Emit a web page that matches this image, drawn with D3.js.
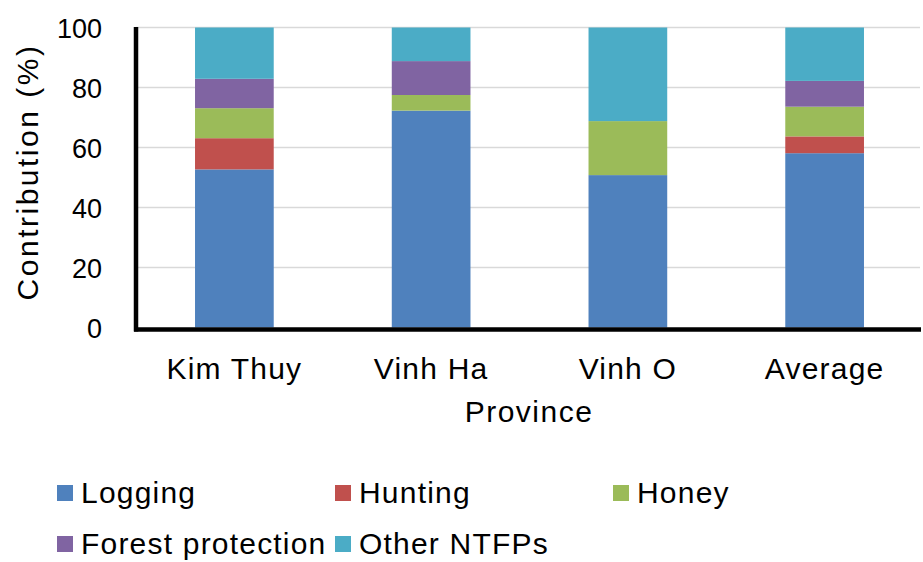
<!DOCTYPE html>
<html>
<head>
<meta charset="utf-8">
<script src="https://cdn.jsdelivr.net/npm/d3@7"></script>
<style>
  html, body { margin: 0; padding: 0; background: #fff; }
  svg { display: block; font-family: "Liberation Sans", Arial, sans-serif; }
</style>
</head>
<body>
<svg id="chart" width="923" height="562"></svg>
<script>
const categories = ["Kim Thuy", "Vinh Ha", "Vinh O", "Average"];
const seriesNames = ["Logging", "Hunting", "Honey", "Forest protection", "Other NTFPs"];
const logging = [52.7, 72.3, 50.8, 58.1];
const hunting = [10.4, 0, 0, 5.6];
const honey = [10.0, 5.2, 18.0, 9.9];
const forestProtection = [9.8, 11.3, 0, 8.6];
const otherNTFPs = [17.1, 11.2, 31.2, 17.8];
const yTicks = [0, 20, 40, 60, 80, 100];
const colors = ["#4f81bd", "#c0504d", "#9bbb59", "#8064a2", "#4bacc6"];

const seriesValues = [logging, hunting, honey, forestProtection, otherNTFPs];
const table = categories.map((c, i) => {
  const row = { category: c };
  seriesNames.forEach((s, j) => row[s] = seriesValues[j][i]);
  return row;
});

const svg = d3.select("#chart");
const x = d3.scaleBand().domain(categories).range([136, 923]).paddingInner(0.6).paddingOuter(0.3);
const y = d3.scaleLinear().domain([0, 100]).range([327.5, 27.5]);
const color = d3.scaleOrdinal().domain(seriesNames).range(colors);

// gridlines
svg.append("g").selectAll("line").data(yTicks.filter(d => d > 0)).join("line")
  .attr("x1", 136).attr("x2", 920)
  .attr("y1", d => y(d)).attr("y2", d => y(d))
  .attr("stroke", "#d9d9d9").attr("stroke-width", 1.5);

// bars
const stack = d3.stack().keys(seriesNames)(table);
svg.append("g").selectAll("g").data(stack).join("g")
  .attr("fill", d => color(d.key))
  .selectAll("rect").data(d => d).join("rect")
  .attr("x", d => x(d.data.category))
  .attr("width", x.bandwidth())
  .attr("y", d => y(d[1]))
  .attr("height", d => y(d[0]) - y(d[1]));

// y axis
const yAxis = svg.append("g").attr("transform", "translate(136,0)")
  .call(d3.axisLeft(y).tickValues(yTicks).tickSize(0).tickPadding(34));
yAxis.select(".domain").remove();
yAxis.selectAll("text").attr("font-size", 27).attr("fill", "#000")
  .attr("font-family", "Liberation Sans, Arial, sans-serif").attr("dy", "0.36em");

// x axis
const xAxis = svg.append("g").attr("transform", "translate(0,329.5)")
  .call(d3.axisBottom(x).tickSize(0).tickPadding(28));
xAxis.select(".domain").remove();
xAxis.selectAll("text").attr("font-size", 30).attr("fill", "#000")
  .attr("font-family", "Liberation Sans, Arial, sans-serif").attr("letter-spacing", 1.2);

// axis lines
svg.append("line").attr("x1", 136).attr("x2", 136).attr("y1", 27).attr("y2", 331.5)
  .attr("stroke", "#000").attr("stroke-width", 4.5);
svg.append("line").attr("x1", 134).attr("x2", 921).attr("y1", 329.5).attr("y2", 329.5)
  .attr("stroke", "#000").attr("stroke-width", 4.5);

// axis titles
svg.append("text").attr("x", 529).attr("y", 422).attr("text-anchor", "middle")
  .attr("font-size", 30).attr("letter-spacing", 1.5).text("Province");
svg.append("text").attr("transform", "translate(38,172) rotate(-90)").attr("text-anchor", "middle")
  .attr("font-size", 30).attr("letter-spacing", 2.5).text("Contribution (%)");

// legend
const legendPos = [[57, 485], [335, 485], [613, 485], [57, 536], [335, 536]];
const lg = svg.append("g").selectAll("g").data(seriesNames).join("g")
  .attr("transform", (d, i) => `translate(${legendPos[i][0]},${legendPos[i][1]})`);
lg.append("rect").attr("width", 16).attr("height", 16).attr("fill", d => color(d));
lg.append("text").attr("x", 24).attr("y", 18).attr("font-size", 30).attr("letter-spacing", 1.2)
  .text(d => d);
</script>
</body>
</html>
